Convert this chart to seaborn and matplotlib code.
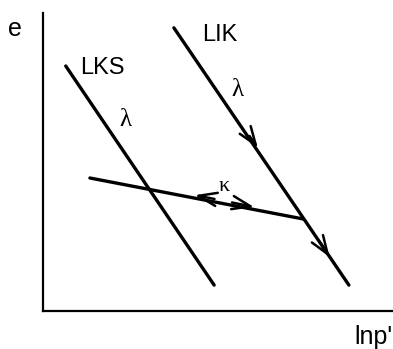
import matplotlib
matplotlib.use("Agg")
import matplotlib.pyplot as plt
import pandas as pd
import seaborn as sns

sns.set_theme(style="white")
plt.rcParams["font.family"] = ["Liberation Sans", "DejaVu Sans"]
plt.rcParams["text.color"] = "black"

# Lines in the e - ln p' plane (arbitrary units)
lks_x = [0.65, 4.89]
lks_e = [7.00, 0.74]
lik_x = [3.74, 8.74]
lik_e = [8.09, 0.74]
kappa_x = [1.34, 7.43]
kappa_e = [3.80, 2.63]

# Arrow heads: (tail x, tail e, tip x, tip e)
arrows = [
    (5.90, 5.00, 6.14, 4.66),   # along LIK, first
    (7.95, 1.90, 8.19, 1.54),   # along LIK, second
    (4.90, 3.20, 4.34, 3.31),   # along kappa, towards left
    (5.40, 3.10, 6.03, 2.97),   # along kappa, towards right
]

fig = plt.figure(figsize=(3.93, 3.49), dpi=100)
ax = fig.add_axes([43 / 393, 38 / 349, 350 / 393, 298 / 349])

frames = []
for name, xs, es in [("LKS", lks_x, lks_e), ("LIK", lik_x, lik_e), ("kappa", kappa_x, kappa_e)]:
    frames.append(pd.DataFrame({"lnp": xs, "e": es, "line": name}))
df = pd.concat(frames, ignore_index=True)

sns.lineplot(data=df, x="lnp", y="e", units="line", estimator=None, sort=False,
             color="black", linewidth=2.4, ax=ax, legend=False)

for x0, y0, x1, y1 in arrows:
    ax.annotate("", xy=(x1, y1), xytext=(x0, y0),
                arrowprops=dict(arrowstyle="->,head_length=1.1,head_width=0.4",
                                color="black", lw=1.8, shrinkA=0, shrinkB=0))

ax.set_xlim(0, 10)
ax.set_ylim(0, 8.514)
ax.set_xticks([])
ax.set_yticks([])
ax.set_xlabel("")
ax.set_ylabel("")
for side in ("top", "right"):
    ax.spines[side].set_visible(False)
for side in ("left", "bottom"):
    ax.spines[side].set_color("black")
    ax.spines[side].set_linewidth(1.6)

ax.text(-0.8, 8.05, "e", fontsize=18, ha="center", va="center", clip_on=False)
ax.text(10.0, -0.75, "lnp'", fontsize=18, ha="right", va="center", clip_on=False)
ax.text(1.70, 6.95, "LKS", fontsize=17, ha="center", va="center")
ax.text(5.06, 7.88, "LIK", fontsize=17, ha="center", va="center")
ax.text(2.35, 5.45, "λ", fontsize=18, ha="center", va="center",
        family=["Liberation Serif", "DejaVu Serif"])
ax.text(5.55, 6.30, "λ", fontsize=18, ha="center", va="center",
        family=["Liberation Serif", "DejaVu Serif"])
ax.text(5.17, 3.57, "κ", fontsize=16, ha="center", va="center",
        family=["Liberation Serif", "DejaVu Serif"])

fig.savefig("out.png", dpi=100)
